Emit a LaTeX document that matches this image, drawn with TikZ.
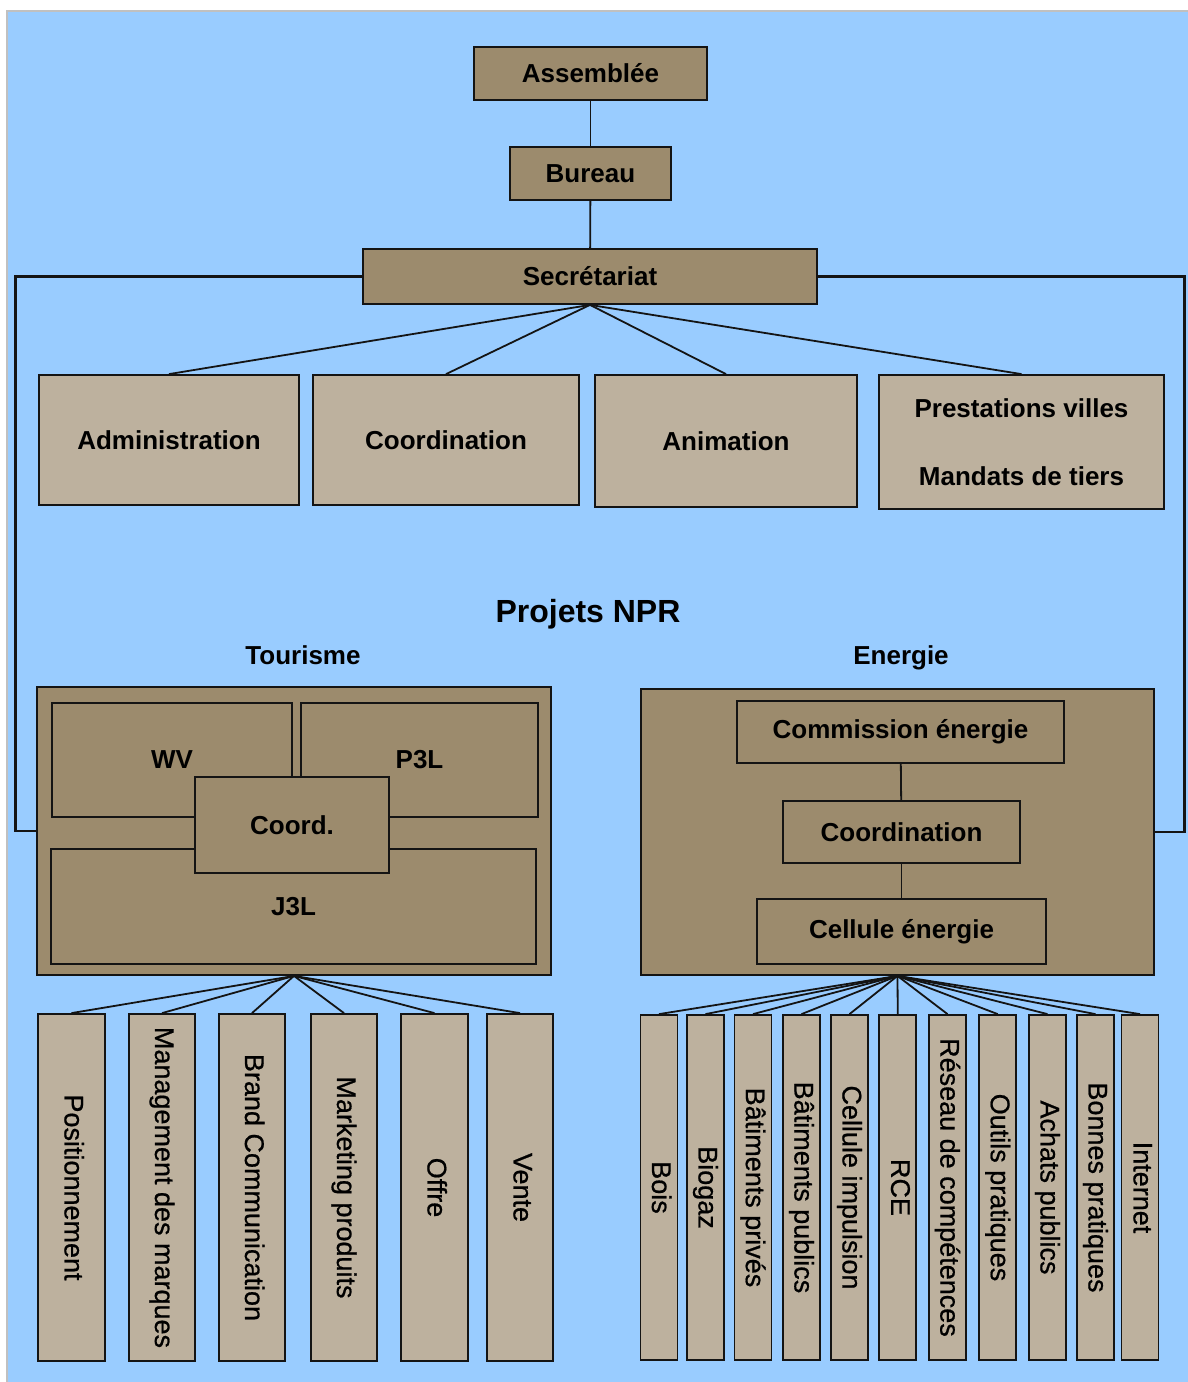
\documentclass[tikz,border=0pt]{standalone}
\usepackage{fontspec}
\setmainfont{Liberation Sans}
\newfontfamily\leaffont[FakeBold=0.7]{Liberation Sans}
\usepackage{graphicx}

\definecolor{sky}{HTML}{99CCFF}
\definecolor{tanD}{HTML}{9C8B6D}
\definecolor{tanL}{HTML}{BDB19E}
\definecolor{rim}{HTML}{C0C0C0}
\definecolor{ink}{HTML}{141414}

\tikzset{
  boxbase/.style={draw=ink, line width=1.8pt, inner sep=0pt, align=center,
    font=\fontsize{26}{30}\selectfont\bfseries},
  darkbox/.style={boxbase, fill=tanD},
  lightbox/.style={boxbase, fill=tanL},
  leaf/.style={draw=ink, fill=tanL, line width=1.8pt, inner sep=0pt,
    font=\leaffont\fontsize{27}{32}\selectfont},
  link/.style={draw=ink, line width=1.8pt},
  loopline/.style={draw=ink, line width=2.8pt},
  heading/.style={inner sep=0pt, anchor=base, font=\fontsize{26}{30}\selectfont\bfseries},
}
\newcommand{\vtext}[1]{\rotatebox{-90}{\vphantom{Bg}#1}}

\begin{document}
\begin{tikzpicture}[x=1pt,y=-1pt]
\useasboundingbox (0,0) rectangle (1188,1382);
% canvas
\fill[white] (0,0) rectangle (1188,1382);
\fill[sky] (6,10) rectangle (1188,1382);
\draw[rim, line width=1.6pt] (6.8,1382) -- (6.8,10.8) -- (1188,10.8);

% direction chain
\node[darkbox, minimum width=233pt, minimum height=53pt] (ass) at (590.5,73.5) {Assemblée};
\node[darkbox, minimum width=161pt, minimum height=53pt] (bur) at (590.5,173.5) {Bureau};
\node[darkbox, minimum width=454pt, minimum height=55pt] (sec) at (590,276.5) {Secrétariat};
\draw[link] (ass) -- (bur);
\draw[link] (bur) -- (sec);

% services
\node[lightbox, minimum width=260pt, minimum height=130pt] (adm) at (169,440) {Administration};
\node[lightbox, minimum width=266pt, minimum height=130pt] (coo) at (446,440) {Coordination};
\node[lightbox, minimum width=262pt, minimum height=132pt] (ani) at (726,441) {Animation};
\node[lightbox, minimum width=285pt, minimum height=134pt, font=\fontsize{26}{68}\selectfont\bfseries]
  (pre) at (1021.5,442) {Prestations villes\\Mandats de tiers};
\foreach \t in {adm,coo,ani,pre} \draw[link] (sec.south) -- (\t.north);

% projects
\node[heading, font=\fontsize{32}{36}\selectfont\bfseries] (npr) at (588,622) {Projets NPR};
\node[heading] (htour) at (303,664) {Tourisme};
\node[heading] (hener) at (901,664) {Energie};

% tourism block
\node[darkbox, minimum width=514pt, minimum height=288pt] (tour) at (294,831) {};
\node[darkbox, minimum width=240pt, minimum height=114pt] (wv) at (172,760) {WV};
\node[darkbox, minimum width=237pt, minimum height=114pt] (p3l) at (419.5,760) {P3L};
\node[darkbox, minimum width=485pt, minimum height=115pt] (j3l) at (293.5,906.5) {J3L};
\node[darkbox, minimum width=194pt, minimum height=96pt] (tco) at (292,825) {Coord.};

% energy block
\node[darkbox, minimum width=513pt, minimum height=286pt] (ener) at (897.5,832) {};
\node[darkbox, minimum width=327pt, minimum height=62pt] (com) at (900.5,732) {Commission énergie};
\node[darkbox, minimum width=237pt, minimum height=62pt] (eco) at (901.5,832) {Coordination};
\node[darkbox, minimum width=289pt, minimum height=65pt] (cel) at (901.5,931.5) {Cellule énergie};
\draw[link] (com) -- (eco);
\draw[link] (eco) -- (cel);

% links from the secretariat to both project blocks
\coordinate (lx) at (15.5,0);
\coordinate (rx) at (1184.5,0);
\draw[loopline] (sec.west) -- (sec.west -| lx) |- (tour.west);
\draw[loopline] (sec.east) -- (sec.east -| rx) |- (ener.east);

% tourism work packages
\foreach \n/\x/\w/\t in {
  t1/71.5/67/Positionnement,
  t2/162/66/Management des marques,
  t3/252/66/Brand Communication,
  t4/344/66/Marketing produits,
  t5/434.5/67/Offre,
  t6/520/66/Vente}{
  \node[leaf, minimum width=\w pt, minimum height=347pt] (\n) at (\x,1187.5) {\vtext{\t}};
  \draw[link] (tour.south) -- (\n.north);
}

% energy work packages
\foreach \n/\x/\t in {
  e1/659/Bois,
  e2/705.5/Biogaz,
  e3/753/Bâtiments privés,
  e4/801.5/Bâtiments publics,
  e5/849.5/Cellule impulsion,
  e6/897.75/RCE,
  e7/947.5/Réseau de compétences,
  e8/997.75/Outils pratiques,
  e9/1047.5/Achats publics,
  e10/1095.5/Bonnes pratiques,
  e11/1140/Internet}{
  \node[leaf, minimum width=37pt, minimum height=345pt] (\n) at (\x,1187.5) {\vtext{\t}};
  \draw[link] (ener.south) -- (\n.north);
}
\end{tikzpicture}
\end{document}
